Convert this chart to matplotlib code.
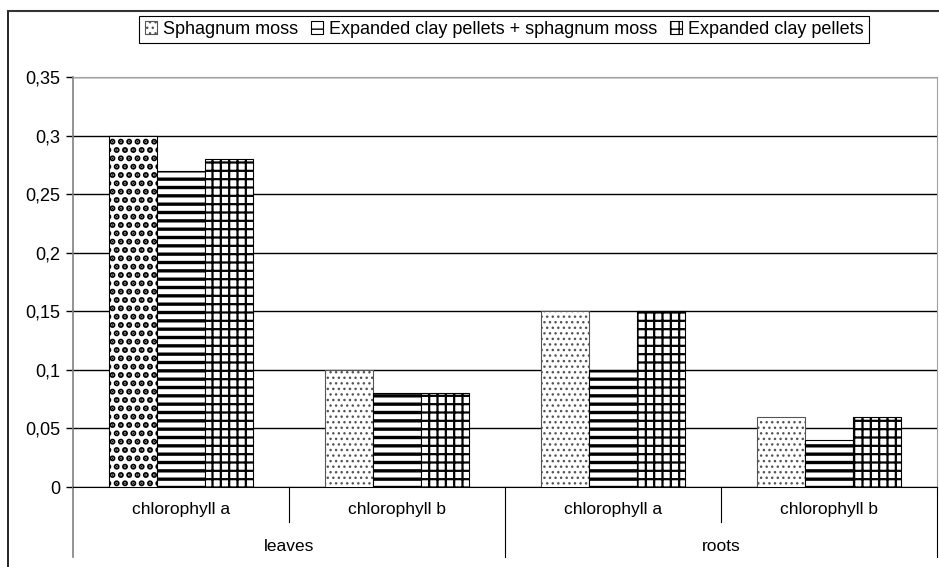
import matplotlib
matplotlib.use('Agg')
import matplotlib.pyplot as plt
from matplotlib.lines import Line2D
from matplotlib.ticker import FuncFormatter, MultipleLocator
import matplotlib.transforms as mtransforms

plt.rcParams['font.family'] = ['Liberation Sans', 'DejaVu Sans']

# data
groups = ['leaves', 'roots']
pigments = ['chlorophyll a', 'chlorophyll b', 'chlorophyll a', 'chlorophyll b']
series_names = ['Sphagnum moss', 'Expanded clay pellets + sphagnum moss', 'Expanded clay pellets']
sphagnum = [0.30, 0.10, 0.15, 0.06]
clay_sphagnum = [0.27, 0.08, 0.10, 0.04]
clay = [0.28, 0.08, 0.15, 0.06]

W, H = 939, 567
fig = plt.figure(figsize=(W / 100, H / 100), dpi=100)
ax = fig.add_axes([73 / W, 1 - 487 / H, (937 - 73) / W, 410 / H])

x = list(range(len(pigments)))
bw = 0.222

# first bar of the first series has a coarser dot pattern in the original
with plt.rc_context({'hatch.linewidth': 3.0}):
    b0 = ax.bar(x[0] - bw, sphagnum[0], bw, color='white', edgecolor='black',
                hatch='..', linewidth=0.8, zorder=3)
with plt.rc_context({'hatch.linewidth': 1.0}):
    b1 = ax.bar([i - bw for i in x[1:]], sphagnum[1:], bw, color='white', edgecolor='#555555',
                hatch='...', linewidth=0.8, zorder=3, label=series_names[0])
with plt.rc_context({'hatch.linewidth': 2.4}):
    b2 = ax.bar(x, clay_sphagnum, bw, color='white', edgecolor='black',
                hatch='--', linewidth=0.8, zorder=3, label=series_names[1])
with plt.rc_context({'hatch.linewidth': 1.6}):
    b3 = ax.bar([i + bw for i in x], clay, bw, color='white', edgecolor='black',
                hatch='++', linewidth=0.8, zorder=3, label=series_names[2])

ax.set_xlim(-0.5, 3.5)
ax.set_ylim(0, 0.35)
ax.yaxis.set_major_locator(MultipleLocator(0.05))
ax.yaxis.set_major_formatter(FuncFormatter(lambda v, p: ('%g' % round(v, 2)).replace('.', ',')))
ax.grid(axis='y', color='black', linewidth=1, zorder=0)
ax.set_xticks([])
ax.tick_params(axis='y', length=5, width=1, labelsize=13, pad=4)
ax.spines['left'].set_color('#808080')
ax.spines['top'].set_color('#a0a0a0')
ax.spines['right'].set_color('#a0a0a0')
ax.spines['bottom'].set_color('black')
ax.spines['left'].set_linewidth(1.2)

# two-level category axis
trans = mtransforms.blended_transform_factory(ax.transData, ax.transAxes)
for i, name in enumerate(pigments):
    ax.text(i, -0.056, name, transform=trans, ha='center', va='center', fontsize=12.5)
for g, name in enumerate(groups):
    ax.text(2 * g + 0.5, -0.146, name, transform=trans, ha='center', va='center', fontsize=12.5)
for xv in [0.5, 2.5]:
    ax.add_line(Line2D([xv, xv], [0, -0.085], transform=trans, color='black', linewidth=0.8, clip_on=False))
for xv in [-0.5, 1.5, 3.5]:
    ax.add_line(Line2D([xv, xv], [0, -0.171], transform=trans, color='#808080' if xv == -0.5 else 'black',
                       linewidth=1.2 if xv == -0.5 else 0.8, clip_on=False))

# outer chart frame
fig.add_artist(Line2D([8 / W, 8 / W], [0, 1 - 11 / H], transform=fig.transFigure, color='black', linewidth=1.2))
fig.add_artist(Line2D([8 / W, 1], [1 - 11 / H, 1 - 11 / H], transform=fig.transFigure, color='#333333', linewidth=1.5))

handles = [b1, b2, b3]
leg = fig.legend(handles, series_names, loc='center', bbox_to_anchor=(504 / W, 1 - 29.5 / H), ncol=3,
                 fancybox=False, edgecolor='black', fontsize=13, handlelength=0.7, handleheight=0.7,
                 handletextpad=0.3, columnspacing=0.7, borderpad=0.3, framealpha=1)
leg.get_frame().set_linewidth(0.8)

fig.savefig('out.png', dpi=100)
